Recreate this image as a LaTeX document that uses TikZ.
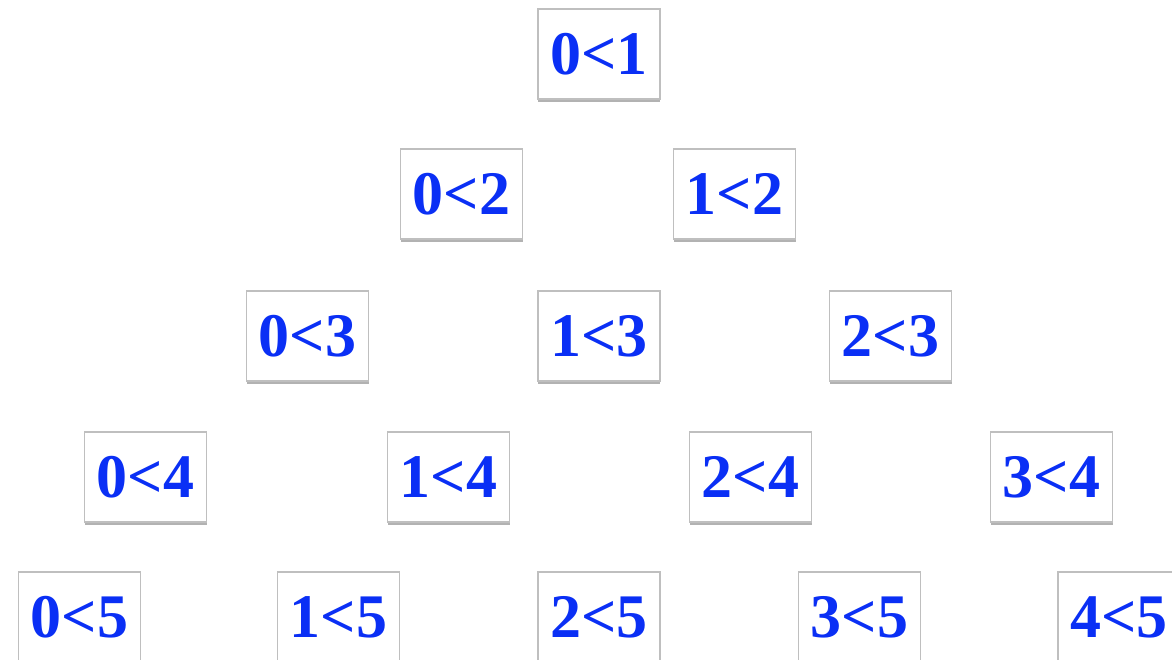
\documentclass[tikz,border=0pt]{standalone}
\usepackage{fontspec}
\setmainfont{Liberation Serif}
\usetikzlibrary{shadows}
\definecolor{txtblue}{HTML}{0A2FF5}
\begin{document}
\begin{tikzpicture}[x=1pt,y=1pt,
  cmp/.style={draw=gray!50, line width=1.8pt, fill=white, minimum width=122pt, minimum height=90pt, inner sep=0pt,
    font=\fontsize{62}{62}\selectfont\bfseries, text=txtblue,
    drop shadow={shadow xshift=0pt, shadow yshift=-3pt, opacity=0.8, fill=gray!75}}]
\useasboundingbox (0,0) rectangle (1172,660);
\fill[white] (0,0) rectangle (1172,660);
% row 1
\node[cmp] (a01) at (599,606) {0<1};
% row 2
\node[cmp] (a02) at (461.5,466) {0<2};
\node[cmp] (a12) at (734.5,466) {1<2};
% row 3
\node[cmp] (a03) at (307.5,324) {0<3};
\node[cmp] (a13) at (599,324) {1<3};
\node[cmp] (a23) at (890.5,324) {2<3};
% row 4
\node[cmp] (a04) at (145.5,183) {0<4};
\node[cmp] (a14) at (448.5,183) {1<4};
\node[cmp] (a24) at (750.5,183) {2<4};
\node[cmp] (a34) at (1051.5,183) {3<4};
% row 5
\node[cmp] (a05) at (79.5,43) {0<5};
\node[cmp] (a15) at (338.5,43) {1<5};
\node[cmp] (a25) at (599,43) {2<5};
\node[cmp] (a35) at (859.5,43) {3<5};
\node[cmp] (a45) at (1119,43) {4<5};
\end{tikzpicture}
\end{document}
